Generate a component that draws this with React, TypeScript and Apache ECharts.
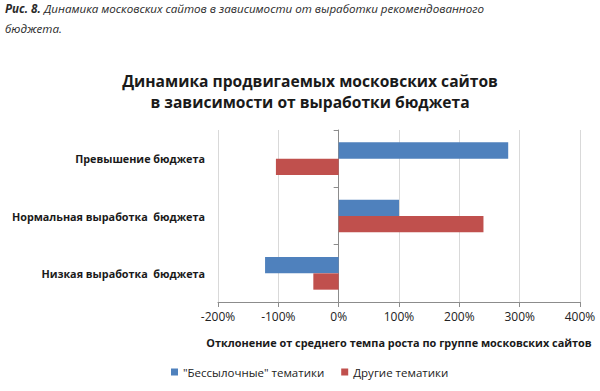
import React, { useEffect, useRef } from "react";
import * as echarts from "echarts";

const categories = [
  "Низкая выработка  бюджета",
  "Нормальная выработка  бюджета",
  "Превышение бюджета",
];
const seriesNames = ["\"Бессылочные\" тематики", "Другие тематики"];
const blueValues = [-122, 100, 281];
const redValues = [-42, 240, -104];
const xTicks = { min: -200, max: 400, interval: 100 };

const captionBold = "Рис. 8.";
const captionLine1 = "Динамика московских сайтов в зависимости от выработки рекомендованного";
const captionLine2 = "бюджета.";
const chartTitle = "Динамика продвигаемых московских сайтов\nв зависимости от выработки бюджета";
const xAxisName = "Отклонение от среднего темпа роста по группе московских сайтов";

const FONT = "'Open Sans', 'Noto Sans', sans-serif";

export default function App() {
  const ref = useRef<HTMLDivElement>(null);
  useEffect(() => {
    if (!ref.current) return;
    const chart = echarts.init(ref.current, null, { renderer: "svg" });
    chart.setOption({
      animation: false,
      backgroundColor: "#ffffff",
      textStyle: { fontFamily: FONT },
      title: {
        text: chartTitle,
        left: 305,
        top: 65,
        textAlign: "center",
        textStyle: {
          fontFamily: FONT,
          fontSize: 15.6,
          fontWeight: "bold",
          color: "#1a1a1a",
          lineHeight: 21,
        },
      },
      graphic: [
        {
          type: "text",
          left: 5,
          top: 2,
          style: {
            text: "{b|" + captionBold + "} {i|" + captionLine1 + "}\n{i|" + captionLine2 + "}",
            rich: {
              b: {
                fontFamily: FONT,
                fontSize: 11.6,
                fontWeight: "bold",
                fontStyle: "italic",
                fill: "#2a2a2a",
                lineHeight: 20,
              },
              i: {
                fontFamily: FONT,
                fontSize: 11.6,
                fontStyle: "italic",
                fill: "#2a2a2a",
                lineHeight: 20,
              },
            },
          },
        },
      ],
      legend: {
        bottom: 8,
        left: 166,
        icon: "rect",
        itemWidth: 7,
        itemHeight: 7,
        itemGap: 17,
        data: seriesNames,
        textStyle: { fontFamily: FONT, fontSize: 11.5, color: "#222" },
      },
      grid: { left: 218, right: 20, top: 130, bottom: 89 },
      xAxis: {
        type: "value",
        min: xTicks.min,
        max: xTicks.max,
        interval: xTicks.interval,
        name: xAxisName,
        nameLocation: "middle",
        nameGap: 35,
        nameTextStyle: { fontFamily: FONT, fontSize: 10.9, fontWeight: "bold", color: "#1a1a1a" },
        axisLine: { show: true, lineStyle: { color: "#8c8c8c" } },
        axisTick: { show: true, length: 5, lineStyle: { color: "#8c8c8c" } },
        axisLabel: {
          formatter: (v: number) => v + "%",
          fontFamily: FONT,
          fontSize: 12,
          color: "#222",
          margin: 8,
        },
        splitLine: { show: true, lineStyle: { color: "#d9d9d9" } },
      },
      yAxis: [
        {
          type: "category",
          data: categories,
          position: "left",
          axisLine: { show: true, onZero: true, lineStyle: { color: "#8c8c8c" } },
          axisTick: { show: true, length: 5, lineStyle: { color: "#8c8c8c" } },
          axisLabel: { show: false },
          splitLine: { show: false },
        },
        {
          type: "category",
          data: categories,
          position: "left",
          axisLine: { show: false, onZero: false },
          axisTick: { show: false },
          axisLabel: {
            show: true,
            fontFamily: FONT,
            fontSize: 10.8,
            fontWeight: "bold",
            color: "#1a1a1a",
            margin: 13,
          },
          splitLine: { show: false },
        },
      ],
      series: [
        {
          name: seriesNames[0],
          type: "bar",
          yAxisIndex: 0,
          data: blueValues,
          itemStyle: { color: "#4f81bd" },
          barGap: "0%",
          barCategoryGap: "43%",
        },
        {
          name: seriesNames[1],
          type: "bar",
          yAxisIndex: 0,
          data: redValues,
          itemStyle: { color: "#c0504d" },
          barGap: "0%",
          barCategoryGap: "43%",
        },
      ],
    });
    return () => chart.dispose();
  }, []);
  return (
    <div
      ref={ref}
      style={{ position: "absolute", left: 0, top: 0, width: 600, height: 391 }}
    />
  );
}
